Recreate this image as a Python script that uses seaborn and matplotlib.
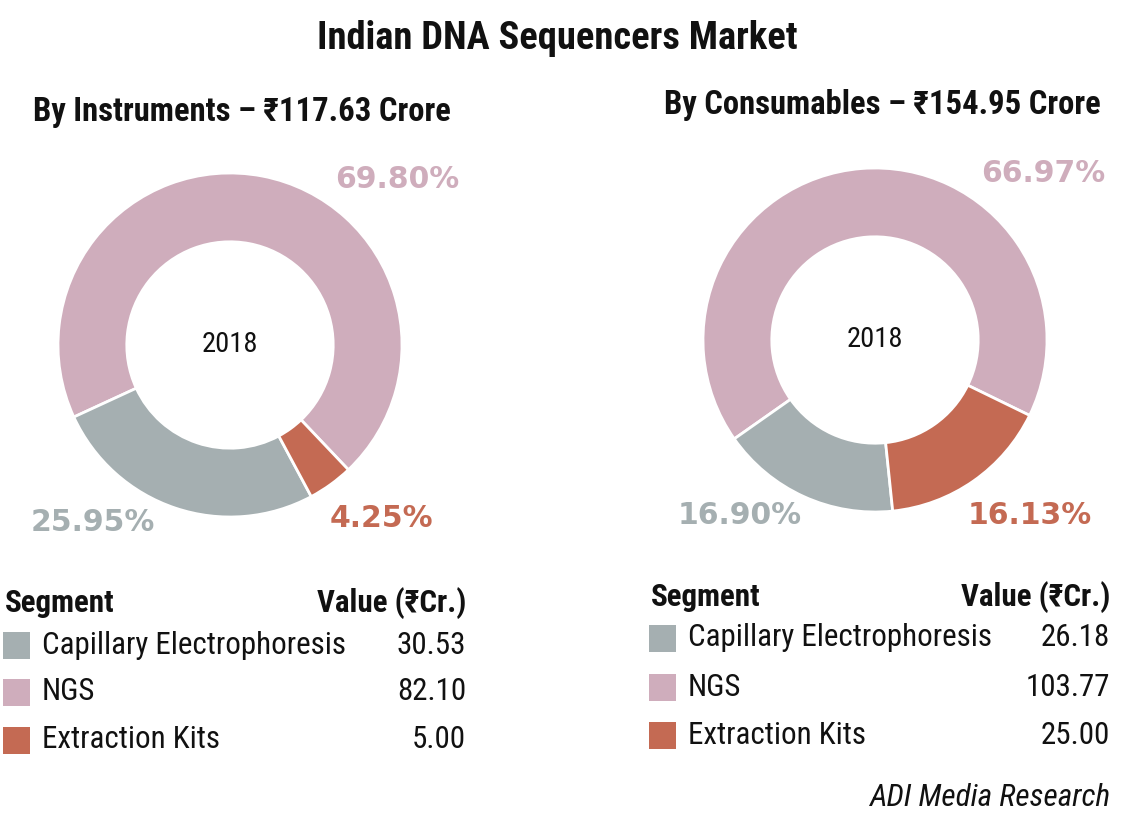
import logging

import matplotlib

matplotlib.use("Agg")

import matplotlib.pyplot as plt
import seaborn as sns
from matplotlib.patches import Rectangle

logging.getLogger("matplotlib.font_manager").setLevel(logging.ERROR)

# data
segments = ["Capillary Electrophoresis", "NGS", "Extraction Kits"]
instrument_values = [30.53, 82.10, 5.00]
consumable_values = [26.18, 103.77, 25.00]
segment_colors = ["#A5AFB1", "#CFADBC", "#C46A53"]
year_label = "2018"
chart_title = "Indian DNA Sequencers Market"
panel_titles = ["By Instruments – ₹117.63 Crore", "By Consumables – ₹154.95 Crore"]
source_note = "ADI Media Research"

sns.set_theme(style="white")
NARROW = ["Liberation Sans Narrow", "DejaVu Sans Condensed", "Roboto Condensed", "Liberation Sans", "DejaVu Sans"]
plt.rcParams["font.family"] = NARROW

W, H = 1131, 823
fig = plt.figure(figsize=(W / 100, H / 100), dpi=100)
fig.patch.set_facecolor("white")

# overlay in pixel coordinates for all the text
ov = fig.add_axes([0, 0, 1, 1])
ov.set_xlim(0, W)
ov.set_ylim(H, 0)
ov.axis("off")

ov.text(557, 38, chart_title, ha="center", va="center", fontsize=27.7, fontweight="bold", color="#111111")

pie_order = [1, 0, 2]  # NGS first, then capillary, then extraction (counter-clockwise)

panels = [
    dict(values=instrument_values, cx=230, cy=345, start=-46.5, title_xy=(242, 112),
         pct_pos=[(0.97, 0.96), (-0.80, -1.03), (0.88, -1.01)],
         leg_x=3, val_x=466, head_y=603, rows=[645, 692, 740]),
    dict(values=consumable_values, cx=875, cy=340, start=-26, title_xy=(882, 105),
         pct_pos=[(0.977, 0.97), (-0.785, -1.02), (0.90, -1.02)],
         leg_x=649, val_x=1110, head_y=597, rows=[638, 687, 735]),
]

R = 172
for p, ptitle in zip(panels, panel_titles):
    vals = p["values"]
    total = sum(vals)
    ax = fig.add_axes([(p["cx"] - R) / W, 1 - (p["cy"] + R) / H, 2 * R / W, 2 * R / H])
    ax.pie([vals[i] for i in pie_order], colors=[segment_colors[i] for i in pie_order],
           startangle=p["start"], counterclock=True, radius=1,
           wedgeprops=dict(width=0.4, edgecolor="white", linewidth=2))
    ax.set_xlim(-1, 1)
    ax.set_ylim(-1, 1)
    ax.set_aspect("equal")
    ax.axis("off")
    ax.text(0, 0, year_label, ha="center", va="center", fontsize=20.5, color="#111111")
    # percentage labels: NGS, capillary, extraction
    for (px, py), idx in zip(p["pct_pos"], pie_order):
        ax.text(px, py, f"{vals[idx] / total * 100:.2f}%", ha="center", va="center",
                fontsize=21.5, fontweight="bold", color=segment_colors[idx],
                family="DejaVu Sans", clip_on=False)

    ov.text(*p["title_xy"], ptitle, ha="center", va="center", fontsize=23.5, fontweight="bold", color="#111111")

    ov.text(p["leg_x"] + 2, p["head_y"], "Segment", ha="left", va="center", fontsize=22.3,
            fontweight="bold", color="#111111")
    ov.text(p["val_x"], p["head_y"], "Value (₹Cr.)", ha="right", va="center", fontsize=22.3,
            fontweight="bold", color="#111111")
    for name, v, col, y in zip(segments, vals, segment_colors, p["rows"]):
        ov.add_patch(Rectangle((p["leg_x"], y - 13.5), 27, 27, facecolor=col, edgecolor="none"))
        ov.text(p["leg_x"] + 39, y, name, ha="left", va="center", fontsize=22.3, color="#111111")
        ov.text(p["val_x"], y, f"{v:.2f}", ha="right", va="center", fontsize=22.3, color="#111111")

ov.text(1110, 798, source_note, ha="right", va="center", fontsize=22.5, style="italic", color="#111111")

fig.savefig("out.png", dpi=100, facecolor="white")
